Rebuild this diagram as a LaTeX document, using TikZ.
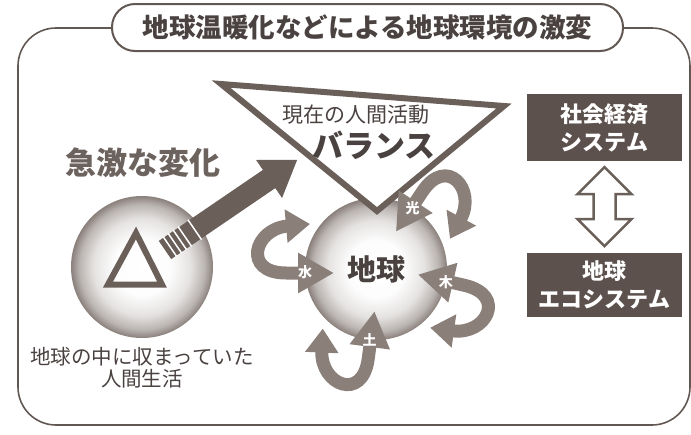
\documentclass[tikz,border=0pt]{standalone}
\usepackage{fontspec}
\usetikzlibrary{arrows.meta,calc,positioning}
\newfontfamily\jp{Noto Sans CJK JP}
\definecolor{framegray}{HTML}{625853}
\definecolor{boxbrown}{HTML}{5C514C}
\definecolor{arrowbrown}{HTML}{6B5F59}
\definecolor{swirlgray}{HTML}{8A7F79}
\definecolor{inkgray}{HTML}{4A4240}
\definecolor{softgray}{HTML}{6D635E}
\definecolor{globeedge}{HTML}{8A807B}

\pgfdeclareradialshading{globeshade}{\pgfpoint{0bp}{0bp}}{%
  color(0bp)=(white); color(10bp)=(white!98!globeedge); color(17bp)=(white!78!globeedge);
  color(22bp)=(white!42!globeedge); color(25bp)=(globeedge); color(50bp)=(globeedge)}

\tikzset{
  globe/.style={circle,minimum size=142pt,inner sep=0pt,shading=globeshade},
  sysbox/.style={fill=boxbrown,minimum width=155pt,minimum height=67pt,
    align=center,text=white,font=\jp\bfseries\fontsize{22}{28}\selectfont},
  swirlline/.style={draw=swirlgray,line width=13pt,
    {Triangle[width=32pt,length=24pt]}-{Triangle[width=38pt,length=36pt]}},
  swirltext/.style={text=white,font=\jp\bfseries\fontsize{14}{14}\selectfont,inner sep=0pt},
  swirl/.pic={
    \draw[swirlline] (-66,-45) .. controls (-122,-40) and (-134,4) .. (-90,4) -- (-42,4);
    \node[swirltext] (-lbl) at (-71,3) {#1};
  },
  hollow/.style={draw=arrowbrown,line width=2.5pt,fill=white,line join=miter}
}

\begin{document}
\begin{tikzpicture}[x=1pt,y=-1pt]
  \useasboundingbox (0,0) rectangle (691,434);

  % frame and title
  \draw[framegray,line width=1.6pt,rounded corners=38pt] (18,28) rectangle (690,425);
  \node[draw=framegray,line width=2pt,fill=white,rounded corners=23pt,
    minimum width=511pt,minimum height=47pt] (titlebox) at (367.5,27.5) {};
  \node[text=inkgray,font=\jp\bfseries\fontsize{26.5}{30}\selectfont] (title) at (titlebox)
    {地球温暖化などによる地球環境の激変};

  % old world
  \node[globe] (past) at (142,267) {};
  \draw[arrowbrown,line width=6pt,line join=miter] (108,284.5) -- (162,284.5) -- (136,233) -- cycle;
  \node[text=softgray,font=\jp\bfseries\fontsize{31}{34}\selectfont] (change) at (143,163) {急激な変化};
  \node[text=inkgray,align=center,font=\jp\fontsize{20.5}{22}\selectfont] (life) at (142,368)
    {地球の中に収まっていた\\人間生活};

  % big arrow out of the old world
  \coordinate (base) at (165,250);
  \begin{scope}[shift={(base)},rotate=34.3]
    \fill[arrowbrown] (0,-11) -- (126,-11) -- (126,-23) -- (160,0) -- (126,23) -- (126,11)
      -- (0,11) -- cycle;
    \foreach \s in {6,12,18,24,36}
      \draw[white,line width=1.5pt] (\s,-12) -- (\s,12);
  \end{scope}

  % earth with its cycles
  \node[globe,text=inkgray,font=\jp\bfseries\fontsize{29}{30}\selectfont] (earth) at (376,269) {地球};
  \draw[arrowbrown,line width=6pt,fill=white,line join=miter]
    (221,84) -- (504,106) -- (377,211) -- cycle;
  \node[text=inkgray,font=\jp\fontsize{21}{22}\selectfont] (now) at (356,115) {現在の人間活動};
  \node[text=inkgray,font=\jp\bfseries\fontsize{31}{32}\selectfont] (balance) at (374,145) {バランス};

  \pic (water) at (earth) {swirl=水};
  \pic[rotate=-123.5] (light) at (earth) {swirl=光};
  \pic[rotate=167] (wood) at (earth) {swirl=木};
  \pic[rotate=82.5] (soil) at (earth) {swirl=土};

  % the two systems
  \node[sysbox] (society) at (604.5,127.5) {社会経済\\システム};
  \node[sysbox,minimum height=64pt] (eco) at (604.5,285) {地球\\エコシステム};
  \draw[hollow] ($(society.south)+(0,6)$) -- ++(27,27) -- ++(-16,0) -- ++(0,25) -- ++(16,0)
    -- ++(-27,27) -- ++(-27,-27) -- ++(16,0) -- ++(0,-25) -- ++(-16,0) -- cycle;
\end{tikzpicture}
\end{document}
